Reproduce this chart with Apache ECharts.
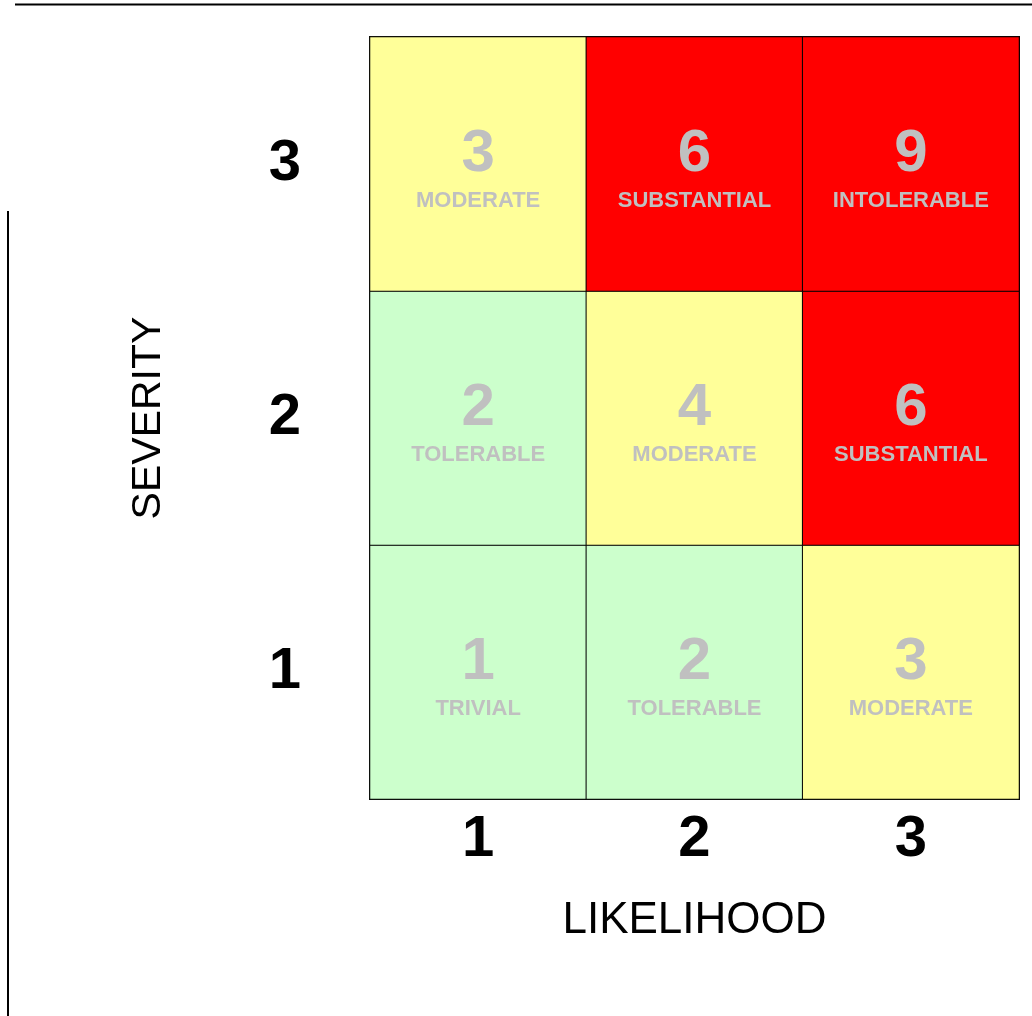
<!DOCTYPE html>
<html>
<head>
<meta charset="utf-8">
<script src="https://cdn.jsdelivr.net/npm/echarts@6/dist/echarts.min.js"></script>
<style>
  html, body { margin: 0; padding: 0; background: #fff; }
  #chart { width: 1032px; height: 1016px; }
</style>
</head>
<body>
<div id="chart"></div>
<script>
// axes
const likelihood = ['1', '2', '3']
const severity = ['1', '2', '3']

// risk score per cell, rows = severity 1..3, cols = likelihood 1..3
const scores = [
  [1, 2, 3],
  [2, 4, 6],
  [3, 6, 9],
]
const levels = [
  ['TRIVIAL', 'TOLERABLE', 'MODERATE'],
  ['TOLERABLE', 'MODERATE', 'SUBSTANTIAL'],
  ['MODERATE', 'SUBSTANTIAL', 'INTOLERABLE'],
]

const font = '"Liberation Sans", Arial, sans-serif'

const cells = []
severity.forEach((s, yi) => {
  likelihood.forEach((l, xi) => {
    cells.push({ value: [xi, yi, scores[yi][xi]], level: levels[yi][xi] })
  })
})

const chart = echarts.init(document.getElementById('chart'))
chart.setOption({
  animation: false,
  backgroundColor: '#fff',
  grid: {
    left: 370, top: 37, right: 13, bottom: 217,
    show: true, borderColor: '#000', borderWidth: 2,
  },
  xAxis: {
    type: 'category',
    data: likelihood,
    name: 'LIKELIHOOD',
    nameLocation: 'middle',
    nameGap: 100,
    nameTextStyle: { fontFamily: font, fontSize: 44, color: '#000' },
    axisLine: { show: false },
    axisTick: { show: false },
    splitArea: { show: false },
    axisLabel: { fontFamily: font, fontSize: 58, fontWeight: 'bold', color: '#000', margin: 12 },
  },
  yAxis: {
    type: 'category',
    data: severity,
    name: 'SEVERITY',
    nameLocation: 'middle',
    nameGap: 201,
    nameRotate: 90,
    nameTextStyle: { fontFamily: font, fontSize: 41, color: '#000' },
    axisLine: { show: false },
    axisTick: { show: false },
    axisLabel: { fontFamily: font, fontSize: 58, fontWeight: 'bold', color: '#000', margin: 69 },
  },
  visualMap: {
    show: false,
    type: 'piecewise',
    dimension: 2,
    pieces: [
      { min: 0, max: 2, color: '#ccffcc' },
      { min: 3, max: 4, color: '#ffff99' },
      { min: 5, max: 9, color: '#ff0000' },
    ],
  },
  graphic: [
    { type: 'line', shape: { x1: 15, y1: 4.5, x2: 1032, y2: 4.5 }, style: { stroke: '#000', lineWidth: 2 } },
    { type: 'line', shape: { x1: 8, y1: 211, x2: 8, y2: 1016 }, style: { stroke: '#000', lineWidth: 2 } },
  ],
  series: [{
    type: 'heatmap',
    data: cells,
    itemStyle: { borderColor: '#000', borderWidth: 1 },
    emphasis: { disabled: true },
    label: {
      show: true,
      offset: [0, 2],
      formatter: p => '{n|' + p.value[2] + '}\n{t|' + p.data.level + '}',
      rich: {
        n: { fontFamily: font, fontSize: 60, fontWeight: 'bold', color: '#c0c0c0', lineHeight: 70, align: 'center' },
        t: { fontFamily: font, fontSize: 22, fontWeight: 'bold', color: '#c0c0c0', lineHeight: 24, align: 'center' },
      },
    },
  }],
})
</script>
</body>
</html>
